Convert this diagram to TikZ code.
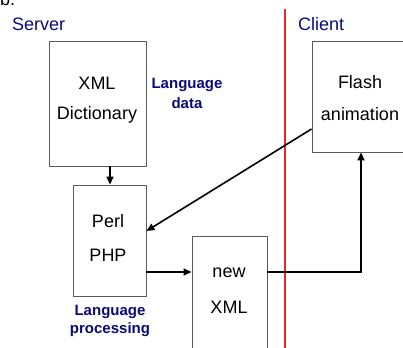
\documentclass[tikz,border=0pt]{standalone}
\usepackage{fontspec}
\setmainfont{Liberation Sans}
\usetikzlibrary{arrows.meta}
\definecolor{navy}{RGB}{10,10,120}
\definecolor{boxgray}{RGB}{90,90,90}
\definecolor{dividerred}{RGB}{230,40,40}
\begin{document}
\begin{tikzpicture}[x=1pt,y=-1pt,
  box/.style={draw=boxgray,line width=0.9pt,inner sep=0pt},
  txt/.style={font=\fontsize{18}{18}\selectfont,text=black},
  lab/.style={font=\fontsize{15}{15}\selectfont\bfseries,text=navy,align=center},
  head/.style={font=\fontsize{18}{18}\selectfont,text=navy},
  divider/.style={color=dividerred,line width=1.1pt},
  conn/.style={draw=black,line width=1.6pt,-{Triangle[length=8pt,width=7pt]}}]
\useasboundingbox (0,0) rectangle (403,347);
\fill[white] (0,0) rectangle (403,347);
% partial caption at top
\node[anchor=base west,inner sep=0pt,font=\fontsize{18}{18}\selectfont] (cap) at (0,6) {b.};
% headers
\node[head,anchor=base west,inner sep=0pt] (server) at (12,31) {Server};
\node[head,anchor=base west,inner sep=0pt] (client) at (298,31) {Client};
% divider
\coordinate (rtop) at (285,9);
\coordinate (rbot) at (285,350);
\draw[divider] (rtop) -- (rbot);
% boxes
\node[box,minimum width=97pt,minimum height=125pt] (dict) at (97.5,103.5) {};
\node[box,minimum width=73pt,minimum height=111pt] (perl) at (109.5,240.5) {};
\node[box,minimum width=75pt,minimum height=116pt] (newxml) at (229.5,294) {};
\node[box,minimum width=93pt,minimum height=111pt] (flash) at (358.5,96.5) {};
% box texts
\node[txt] (t1) at (97,83) {XML};
\node[txt] (t2) at (97,115) {Dictionary};
\node[txt] (t3) at (108,221) {Perl};
\node[txt] (t4) at (108,255) {PHP};
\node[txt] (t5) at (229,273) {new};
\node[txt] (t6) at (229,307) {XML};
\node[txt] (t7) at (360,82) {Flash};
\node[txt] (t8) at (360,114) {animation};
% labels
\node[lab] (l1) at (187,85) {Language};
\node[lab] (l2) at (187,103) {data};
\node[lab] (l3) at (110,312) {Language};
\node[lab] (l4) at (110,330) {processing};
% connectors
\draw[conn] (dict.south -| 110,0) -- (perl.north -| 110,0);
\draw[conn] (flash.west |- 0,129) -- (perl.east |- 0,231);
\draw[conn] (perl.east |- 0,272) -- (newxml.west |- 0,272);
\draw[conn] (newxml.east |- 0,272) -| (flash.south -| 361,0);
\end{tikzpicture}
\end{document}
